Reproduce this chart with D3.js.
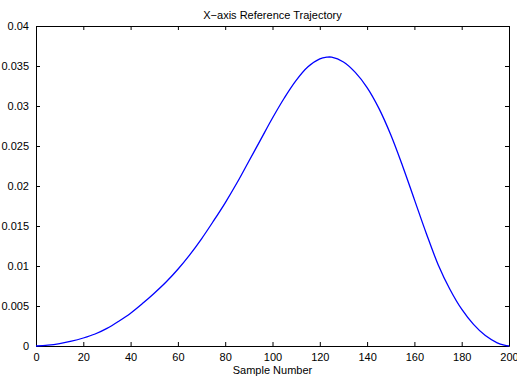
<!DOCTYPE html>
<html>
<head>
<meta charset="utf-8">
<script src="https://cdn.jsdelivr.net/npm/d3@7"></script>
<style>
  body { margin: 0; background: #fff; }
  svg { display: block; font-family: "Liberation Sans", Arial, sans-serif; }
  .axis path, .axis line { stroke: #000; }
  .axis text { font-size: 11px; fill: #000; }
</style>
</head>
<body>
<div id="chart"></div>
<script>
// sample numbers and reference values
const samples = [0, 5, 10, 15, 20, 25, 30, 35, 40, 45, 50, 55, 60, 65, 70, 75, 80, 85, 90, 95,
  100, 105, 110, 115, 120, 123, 125, 130, 135, 140, 145, 150, 155, 160, 165, 170, 175, 180,
  185, 190, 195, 198, 200];
const xRef = [0, 0.0001, 0.0003, 0.0006, 0.001, 0.0015, 0.0022, 0.0031, 0.0041, 0.0053, 0.0066,
  0.008, 0.0096, 0.0114, 0.0134, 0.0156, 0.0179, 0.0204, 0.0231, 0.0258, 0.0285, 0.031, 0.0332,
  0.0349, 0.0359, 0.0361, 0.0361, 0.0355, 0.0342, 0.0323, 0.0297, 0.0264, 0.0225, 0.0183, 0.0141,
  0.0102, 0.0071, 0.0046, 0.0027, 0.0013, 0.0004, 0.0001, 0];
const xTicks = [0, 20, 40, 60, 80, 100, 120, 140, 160, 180, 200];
const yTicks = [0, 0.005, 0.01, 0.015, 0.02, 0.025, 0.03, 0.035, 0.04];

const width = 517, height = 379;
const plotLeft = 36, plotRight = 509, plotTop = 26, plotBottom = 346;

const svg = d3.select("#chart").append("svg")
  .attr("width", width)
  .attr("height", height);

const x = d3.scaleLinear().domain([0, 200]).range([plotLeft, plotRight]);
const y = d3.scaleLinear().domain([0, 0.04]).range([plotBottom, plotTop]);

svg.append("g")
  .attr("class", "axis")
  .attr("transform", "translate(0," + plotBottom + ")")
  .call(d3.axisBottom(x).tickValues(xTicks).tickSizeInner(-4).tickSizeOuter(0).tickPadding(7));

svg.append("g")
  .attr("class", "axis")
  .attr("transform", "translate(0," + plotTop + ")")
  .call(d3.axisTop(x).tickValues(xTicks).tickSizeInner(-4).tickSizeOuter(0).tickFormat(""));

svg.append("g")
  .attr("class", "axis")
  .attr("transform", "translate(" + plotLeft + ",0)")
  .call(d3.axisLeft(y).tickValues(yTicks).tickSizeInner(-4).tickSizeOuter(0).tickPadding(7)
    .tickFormat(d => d === 0 ? "0" : String(+d.toFixed(3))));

svg.append("g")
  .attr("class", "axis")
  .attr("transform", "translate(" + plotRight + ",0)")
  .call(d3.axisRight(y).tickValues(yTicks).tickSizeInner(-4).tickSizeOuter(0).tickFormat(""));

const line = d3.line()
  .x((d, i) => x(samples[i]))
  .y(d => y(d))
  .curve(d3.curveCatmullRom);

svg.append("path")
  .datum(xRef)
  .attr("fill", "none")
  .attr("stroke", "#0000ff")
  .attr("stroke-width", 1.3)
  .attr("d", line);

svg.append("text")
  .attr("x", (plotLeft + plotRight) / 2)
  .attr("y", 19)
  .attr("text-anchor", "middle")
  .attr("font-size", 11)
  .text("X\u2212axis Reference Trajectory");

svg.append("text")
  .attr("x", (plotLeft + plotRight) / 2)
  .attr("y", 374)
  .attr("text-anchor", "middle")
  .attr("font-size", 11)
  .text("Sample Number");
</script>
</body>
</html>
